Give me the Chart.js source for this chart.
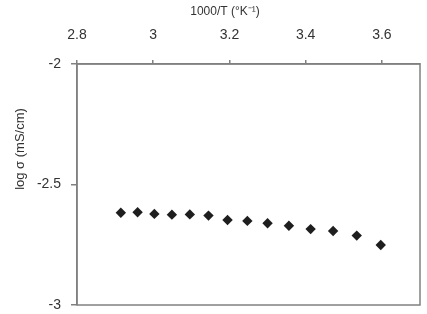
<!DOCTYPE html>
<html>
<head>
<meta charset="utf-8">
<script src="https://cdn.jsdelivr.net/npm/chart.js@4"></script>
<style>
html,body{margin:0;padding:0;background:#fff;}
#wrap{width:427px;height:314px;position:relative;}
</style>
</head>
<body>
<div id="wrap"><canvas id="c" width="427" height="314"></canvas></div>
<script>
// Data
const invT = [2.915, 2.959, 3.003, 3.049, 3.096, 3.145, 3.195, 3.247, 3.300, 3.356, 3.413, 3.472, 3.534, 3.597];
const logSigma = [-2.617, -2.615, -2.622, -2.625, -2.624, -2.629, -2.647, -2.651, -2.661, -2.671, -2.685, -2.693, -2.712, -2.751];
const xTicks = [2.8, 3.0, 3.2, 3.4, 3.6];
const yTicks = [-3, -2.5, -2];
const xTitle = '1000/T (°K\u207B\u00B9)';
const yTitle = 'log σ (mS/cm)';

const FONT = '"Liberation Sans", Arial, sans-serif';
const AXIS = '#808080';

const titles = {
  id: 'titles',
  afterDraw(chart) {
    const ctx = chart.ctx;
    ctx.save();
    ctx.fillStyle = '#333';
    ctx.font = '12px ' + FONT;
    ctx.textAlign = 'center';
    ctx.textBaseline = 'middle';
    ctx.fillText(xTitle, 225, 12);
    ctx.translate(20, 149);
    ctx.rotate(-Math.PI / 2);
    ctx.font = '13px ' + FONT;
    ctx.fillText(yTitle, 0, 0);
    ctx.restore();
  }
};
const frame = {
  id: 'frame',
  afterDatasetsDraw(chart) {
    const a = chart.chartArea, ctx = chart.ctx;
    ctx.save();
    ctx.strokeStyle = AXIS;
    ctx.lineWidth = 1.5;
    ctx.strokeRect(a.left, a.top, a.right - a.left, a.bottom - a.top);
    ctx.restore();
  }
};

new Chart(document.getElementById('c'), {
  type: 'scatter',
  data: {
    datasets: [{
      data: invT.map((x, i) => ({x: x, y: logSigma[i]})),
      pointStyle: 'rectRot',
      pointRadius: 5.2,
      backgroundColor: '#1e1e1e',
      borderColor: '#1e1e1e',
      borderWidth: 0
    }]
  },
  options: {
    responsive: false,
    animation: false,
    devicePixelRatio: 1,
    layout: {autoPadding: false, padding: {top: 0, left: 0, right: 7, bottom: 9}},
    plugins: {legend: {display: false}, tooltip: {enabled: false}},
    scales: {
      x: {
        type: 'linear',
        position: 'top',
        min: 2.8, max: 3.7,
        afterBuildTicks: s => { s.ticks = xTicks.map(v => ({value: v})); },
        afterFit: s => { s.height = 64; s.paddingLeft = 0; s.paddingRight = 0; },
        ticks: {
          callback: v => String(Math.round(v * 10) / 10),
          font: {family: FONT, size: 14}, color: '#333', padding: 16, maxRotation: 0
        },
        grid: {display: true, drawOnChartArea: false, drawTicks: true, tickLength: 4, color: AXIS, lineWidth: 1.5},
        border: {display: true, color: AXIS, width: 1.5}
      },
      y: {
        type: 'linear',
        min: -3, max: -2,
        afterBuildTicks: s => { s.ticks = yTicks.map(v => ({value: v})); },
        afterFit: s => { s.width = 77; s.paddingTop = 0; s.paddingBottom = 0; },
        ticks: {
          callback: v => String(v),
          font: {family: FONT, size: 14}, color: '#333', padding: 10
        },
        grid: {display: true, drawOnChartArea: false, drawTicks: true, tickLength: 6, color: AXIS, lineWidth: 1.5},
        border: {display: true, color: AXIS, width: 1.5}
      }
    }
  },
  plugins: [titles, frame]
});
</script>
</body>
</html>
